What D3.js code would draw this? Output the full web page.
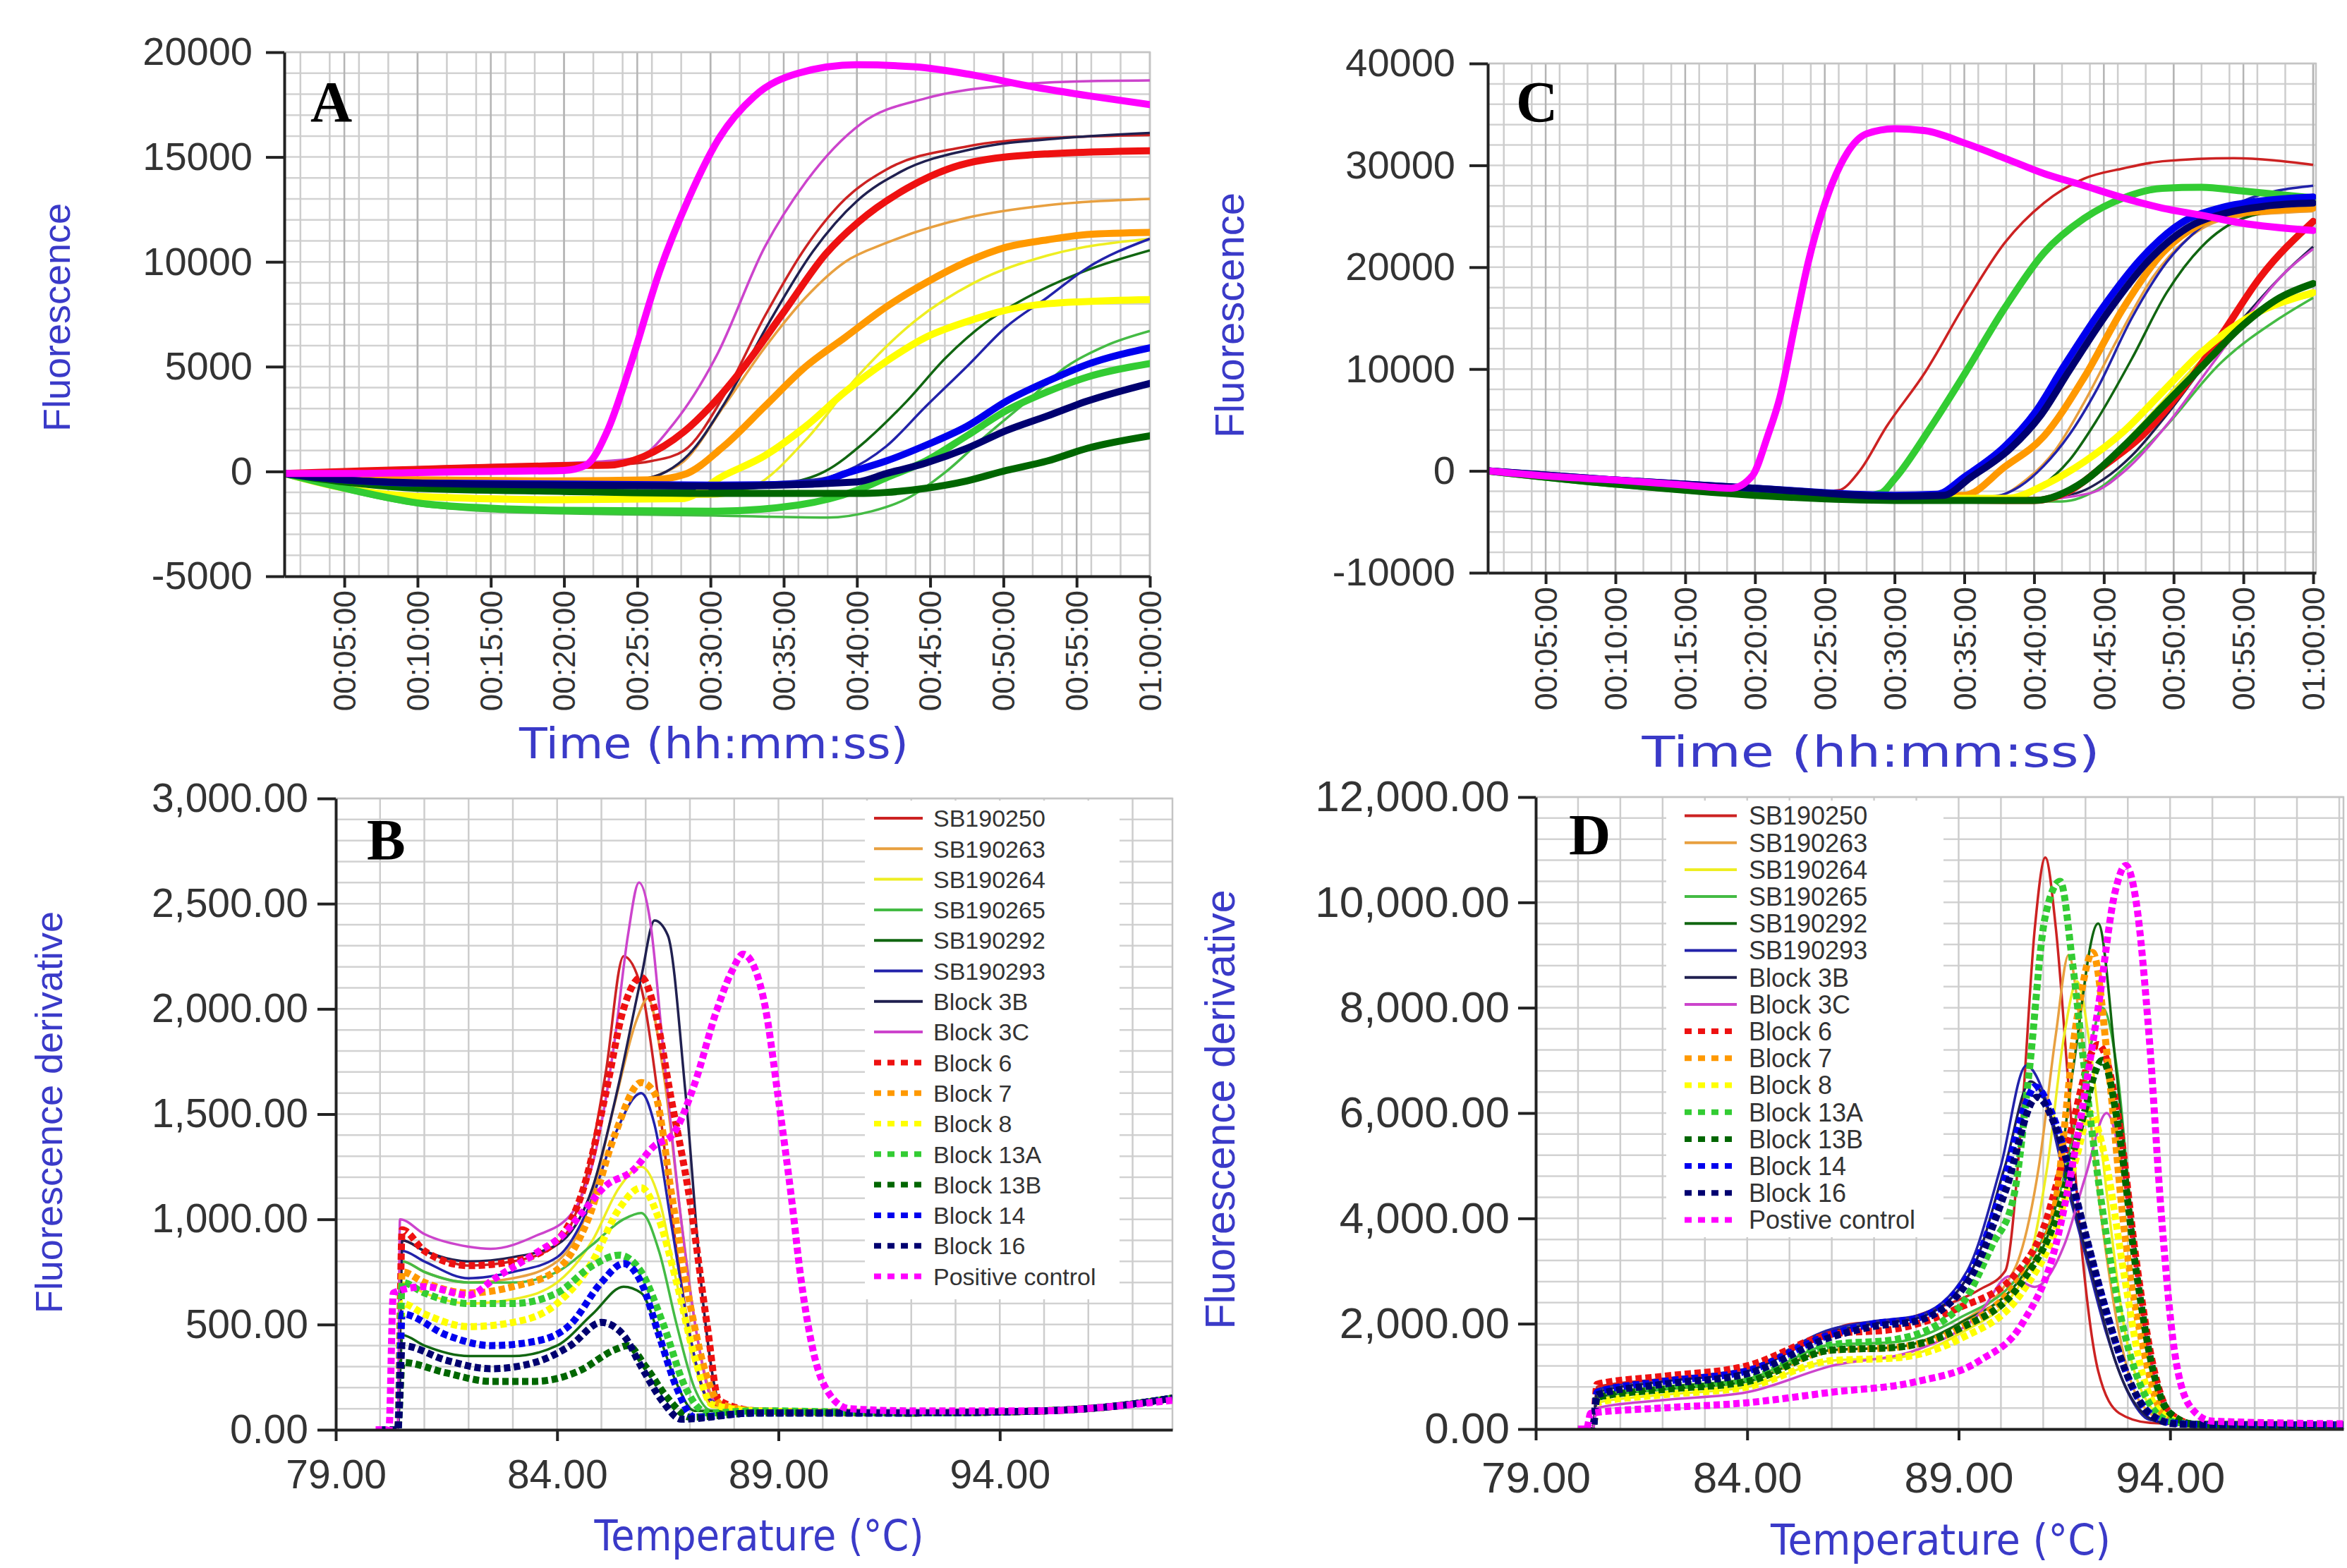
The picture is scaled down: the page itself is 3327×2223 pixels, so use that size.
<!DOCTYPE html>
<html>
<head>
<meta charset="utf-8">
<script src="https://cdn.jsdelivr.net/npm/d3@7"></script>
<style>
  body { margin: 0; background: #fff; }
  svg text { font-family: "Liberation Sans", Arial, sans-serif; }
</style>
</head>
<body>
<div id="vis-container"></div>
<script>
// series, in legend order
const seriesNames = ['SB190250', 'SB190263', 'SB190264', 'SB190265', 'SB190292', 'SB190293',
  'Block 3B', 'Block 3C', 'Block 6', 'Block 7', 'Block 8', 'Block 13A', 'Block 13B',
  'Block 14', 'Block 16', 'Positive control'];
// the D legend spells it "Postive"
const seriesNamesD = seriesNames.slice(0, 15).concat(['Postive control']);
const seriesColors = ['#cc2222', '#e8a040', '#eeee22', '#44bb44', '#116611', '#2222aa',
  '#202050', '#cc44cc', '#ee1111', '#ff9900', '#ffff00', '#33cc33', '#006600',
  '#0000ee', '#000070', '#ff00ff'];
const dotted = [false, false, false, false, false, false, false, false,
  true, true, true, true, true, true, true, true];

// tick values
const timeTicks = [5, 10, 15, 20, 25, 30, 35, 40, 45, 50, 55, 60];
const tempTicks = [79, 84, 89, 94];
const ticksA = [-5000, 0, 5000, 10000, 15000, 20000];
const ticksC = [-10000, 0, 10000, 20000, 30000, 40000];
const ticksB = [0, 500, 1000, 1500, 2000, 2500, 3000];
const ticksD = [0, 2000, 4000, 6000, 8000, 10000, 12000];

// A: amplification, [minutes, fluorescence]
const ampA = [
  [[0.9,-100],[5,0],[10,150],[15,250],[20,300],[24,350],[26,500],[28.2,1000],[30.9,3600],[33.7,7400],[36.5,10700],[39.2,13000],[42,14400],[47.5,15500],[53,15900],[60,16050]],
  [[0.9,-100],[5,-300],[10,-400],[20,-450],[25,-400],[27,0],[28.2,500],[30.9,3100],[33.7,5900],[36.5,8300],[39.2,10000],[42,10900],[47.5,12100],[53,12700],[60,13000]],
  [[0.9,-100],[5,-700],[10,-1100],[20,-1250],[30,-1200],[33,-700],[36.5,1500],[40,4500],[44,7200],[48,9000],[53,10300],[60,11100]],
  [[0.9,-100],[5,-900],[10,-1600],[15,-1900],[20,-2000],[30,-2100],[38,-2200],[41,-1900],[43.4,-1300],[46.1,0],[48.8,1700],[51.6,3350],[54.3,5000],[57,6000],[60,6700]],
  [[0.9,-100],[5,-500],[10,-800],[20,-900],[30,-900],[35,-600],[37.8,0],[40.6,1450],[43.4,3350],[46.1,5450],[48.8,7100],[51.6,8300],[55.7,9600],[60,10550]],
  [[0.9,-100],[5,-400],[10,-550],[20,-600],[30,-600],[37,-400],[39.2,0],[42,1200],[44.7,3100],[47.5,5000],[50.2,6900],[53,8300],[55.7,9700],[60,11100]],
  [[0.9,-100],[5,-350],[10,-500],[20,-550],[25,-400],[27,0],[28.5,800],[31,3300],[34,7100],[37,10500],[40,12900],[43,14300],[48,15400],[54,15900],[60,16150]],
  [[0.9,-100],[5,50],[10,200],[15,300],[20,400],[23,500],[25,650],[27.5,2300],[30.4,5500],[33.7,10700],[36.5,13800],[40.3,16600],[44.7,17800],[50,18400],[55,18600],[60,18650]],
  [[0.9,-100],[5,0],[10,100],[15,200],[20,280],[23,300],[25.4,700],[28.2,1900],[30,3100],[32.3,5000],[35,7600],[37.9,10400],[40.1,11900],[43.4,13500],[47.5,14700],[53,15150],[60,15300]],
  [[0.9,-100],[5,-300],[10,-400],[20,-450],[26,-400],[28.2,-150],[30.9,1200],[33.7,3100],[36.5,5000],[39.2,6400],[42,7850],[44.7,9000],[47.5,10000],[50.2,10700],[53,11050],[55.7,11300],[60,11400]],
  [[0.9,-100],[5,-800],[10,-1200],[20,-1350],[28,-1300],[30.9,-200],[33.7,750],[36.5,2150],[39.2,3800],[42,5250],[44.7,6400],[47.5,7150],[50.2,7700],[53,8000],[60,8200]],
  [[0.9,-100],[5,-800],[10,-1500],[15,-1750],[20,-1850],[30,-1900],[36,-1600],[40,-900],[42,-300],[44.7,500],[47.5,1700],[50.2,2900],[53,3800],[55.7,4500],[60,5150]],
  [[0.9,-100],[5,-500],[10,-800],[20,-950],[30,-1050],[40,-1050],[42,-1000],[44.7,-800],[47.5,-450],[50.2,50],[53,500],[55.7,1100],[60,1700]],
  [[0.9,-100],[5,-400],[10,-550],[20,-600],[30,-650],[37,-600],[39.2,-100],[42,500],[44.7,1250],[47.5,2150],[50.2,3350],[53,4300],[55.7,5100],[60,5900]],
  [[0.9,-100],[5,-400],[10,-550],[20,-650],[30,-700],[40,-500],[42,-100],[44.7,400],[47.5,1100],[50.2,1950],[53,2650],[55.7,3350],[60,4200]],
  [[0.9,-100],[5,-100],[10,-50],[15,0],[20,50],[21.5,300],[23,2000],[24.5,5000],[26.5,9500],[28.5,13000],[30.5,15800],[33,17900],[36,19000],[40,19400],[44,19300],[48,18900],[52,18350],[56,17900],[60,17500]]
];

// C: amplification, [minutes, fluorescence]
const ampC = [
  [[0.85,0],[10,-1000],[20,-1900],[24,-2100],[26,-1900],[27.5,0],[29.4,4300],[32.2,9700],[35.1,16500],[37.9,22400],[40.7,26300],[43.6,28700],[46.4,29700],[49.2,30400],[54.3,30700],[60,30050]],
  [[0.85,0],[10,-1000],[20,-1900],[30,-2600],[37,-2600],[39.5,-800],[41.5,2000],[43.5,6500],[46,13000],[48.5,19000],[51,22800],[54,24800],[60,25500]],
  [[0.85,0],[10,-1200],[20,-2200],[30,-2800],[40,-2900],[42.5,-1800],[45,800],[48,5000],[51,9500],[54,13500],[57,16000],[60,17200]],
  [[0.85,0],[10,-1300],[20,-2500],[30,-3000],[42,-3000],[44.9,-1500],[47,1000],[49.2,4000],[53.3,10500],[57.6,15000],[60,17000]],
  [[0.85,0],[10,-1200],[20,-2200],[30,-2800],[38,-2900],[40.5,-1500],[42.5,1000],[44.5,5000],[47,11000],[49.5,17500],[52,22000],[55,24800],[60,26000]],
  [[0.85,0],[10,-900],[20,-1700],[30,-2400],[37,-2500],[39,-1500],[40.7,500],[42.5,3500],[44.5,8000],[47,15000],[49.5,20500],[52,24000],[55,26500],[60,28000]],
  [[0.85,0],[10,-800],[20,-1600],[30,-2400],[40,-2700],[43,-2200],[45,-800],[47,1500],[49.5,5500],[52,10000],[55,15000],[58,19500],[60,22000]],
  [[0.85,0],[10,-1000],[20,-1900],[30,-2600],[40,-2800],[44,-2200],[46.5,0],[49.5,4500],[52.5,10000],[55.5,15500],[58,19500],[60,21800]],
  [[0.85,0],[10,-1100],[20,-2000],[30,-2700],[40,-2900],[42.5,-2000],[44.9,400],[47.7,3400],[50.5,7750],[53.3,13100],[56.2,19000],[60,24500]],
  [[0.85,0],[10,-1000],[20,-1900],[30,-2500],[35,-2400],[37.9,400],[40.7,3400],[43.6,9200],[46.4,16000],[49.2,21400],[52,24300],[54.8,25300],[60,25800]],
  [[0.85,0],[10,-1200],[20,-2200],[30,-2700],[38,-2700],[41,-1200],[43.6,900],[46.4,3850],[49.2,7750],[52,11650],[54.8,14600],[60,17500]],
  [[0.85,0],[10,-1300],[20,-2300],[27,-2600],[29,-2200],[30,-800],[32.6,4300],[35.1,9700],[37.9,16000],[40.7,21400],[43.6,24800],[46.4,26800],[49.2,27750],[52,27850],[54.8,27500],[60,26800]],
  [[0.85,0],[10,-1300],[20,-2400],[30,-2900],[40,-2900],[43.6,-1000],[46.4,2400],[49.2,6300],[52,10200],[54.8,14100],[57.6,17000],[60,18400]],
  [[0.85,0],[10,-900],[20,-1700],[30,-2400],[33,-2300],[35.1,-500],[37.9,2400],[40.1,5800],[42.1,10200],[44.9,16000],[47.7,20900],[50.5,24300],[53.3,25800],[56.2,26500],[60,26900]],
  [[0.85,0],[10,-900],[20,-1700],[30,-2500],[33.5,-2400],[35.5,-600],[38.3,2200],[40.5,5500],[42.5,9800],[45.3,15600],[48.1,20500],[50.9,23800],[53.7,25300],[56.6,26000],[60,26300]],
  [[0.85,0],[5,-500],[10,-900],[15,-1400],[18.3,-1700],[19.8,-500],[20.9,3400],[21.8,7300],[22.9,14600],[23.8,20400],[24.9,25800],[26.6,31200],[28,33100],[30,33600],[32.2,33400],[35.1,32150],[37.9,30700],[40.7,29200],[43.6,28000],[46.4,26800],[49.2,25800],[52,25100],[54.8,24350],[60,23600]]
];

// B: melt curves, [temperature, fluorescence derivative]
const meltB = [
  [[80,0],[80.4,0],[80.5,900],[81,850],[82,780],[83,800],[84,880],[84.6,1150],[85.1,1700],[85.5,2250],[85.9,2100],[86.3,1550],[86.7,850],[87.1,350],[87.5,120],[88.5,90],[92,80],[95,90],[96.5,110],[97.9,150]],
  [[80,0],[80.4,0],[80.5,800],[81,750],[82,700],[83,720],[84,800],[84.7,1050],[85.3,1550],[85.8,1950],[86.05,2050],[86.4,1700],[86.8,1000],[87.2,400],[87.6,130],[88.5,90],[92,80],[95,90],[96.5,110],[97.9,150]],
  [[80,0],[80.4,0],[80.5,700],[81,650],[82,600],[83,620],[84,700],[84.8,900],[85.4,1150],[85.9,1250],[86.3,1100],[86.7,700],[87.1,320],[87.5,110],[88.5,90],[92,80],[95,90],[96.5,110],[97.9,150]],
  [[80,0],[80.4,0],[80.5,800],[81,750],[82,700],[83,700],[84,750],[84.8,880],[85.5,1000],[85.9,1030],[86.3,850],[86.7,500],[87.1,200],[87.5,90],[88.5,90],[92,80],[95,90],[96.5,110],[97.9,150]],
  [[80,0],[80.4,0],[80.5,450],[81,400],[82,350],[83,350],[84,400],[84.8,550],[85.5,680],[85.9,650],[86.3,450],[86.7,220],[87.1,90],[88.5,90],[92,80],[95,90],[96.5,110],[97.9,150]],
  [[80,0],[80.4,0],[80.5,850],[81,800],[82,720],[83,750],[84,820],[84.7,1050],[85.3,1400],[85.9,1600],[86.2,1450],[86.6,950],[87,450],[87.4,150],[88.5,90],[92,80],[95,90],[96.5,110],[97.9,150]],
  [[80,0],[80.4,0],[80.5,900],[81,850],[82,800],[83,820],[84,880],[84.8,1150],[85.4,1650],[85.9,2150],[86.2,2420],[86.5,2350],[86.9,1600],[87.3,600],[87.7,120],[88.5,90],[92,80],[95,90],[96.5,110],[97.9,150]],
  [[80,0],[80.4,0],[80.45,1000],[81,930],[82,870],[82.5,860],[83.5,920],[84.3,1020],[84.9,1350],[85.3,1850],[85.6,2350],[85.85,2600],[86.1,2420],[86.4,1800],[86.8,1000],[87.2,400],[87.5,150],[88.5,90],[92,80],[95,90],[96.5,110],[97.9,150]],
  [[80,0],[80.4,0],[80.5,950],[81,850],[82,780],[83,800],[84,900],[84.6,1150],[85.1,1600],[85.5,2000],[85.9,2150],[86.2,2000],[86.57,1580],[87,1090],[87.4,480],[87.65,140],[88.5,90],[92,80],[95,90],[96.5,110],[97.9,150]],
  [[80,0],[80.4,0],[80.5,750],[81,700],[82,650],[83,680],[84,760],[84.7,1000],[85.3,1400],[85.9,1650],[86.2,1600],[86.6,1100],[87,600],[87.4,240],[87.7,120],[88.5,90],[92,80],[95,90],[96.5,110],[97.9,150]],
  [[80,0],[80.4,0],[80.5,600],[81,550],[82,490],[83,510],[84,600],[84.8,800],[85.4,1050],[85.9,1150],[86.3,1000],[86.7,700],[87.1,350],[87.5,120],[88.5,90],[92,80],[95,90],[96.5,110],[97.9,150]],
  [[80,0],[80.4,0],[80.5,700],[81,650],[82,600],[83,600],[84,650],[84.8,780],[85.4,830],[85.9,750],[86.4,500],[86.9,200],[87.4,80],[88.5,90],[92,80],[95,90],[96.5,110],[97.9,150]],
  [[80,0],[80.4,0],[80.5,320],[81.5,270],[82.5,230],[83.5,230],[84.5,280],[85.3,380],[85.6,400],[86,300],[86.5,150],[87,60],[88.5,80],[92,80],[95,90],[96.5,110],[97.9,150]],
  [[80,0],[80.4,0],[80.5,550],[81.5,450],[82.5,400],[83.5,420],[84.3,500],[85,700],[85.5,790],[85.9,700],[86.3,450],[86.7,200],[87.1,60],[88.5,80],[92,80],[95,90],[96.5,110],[97.9,150]],
  [[80,0],[80.4,0],[80.5,400],[81.5,330],[82.5,290],[83.5,320],[84.3,400],[85,510],[85.5,450],[85.9,300],[86.4,130],[86.8,50],[88.5,80],[92,80],[95,90],[96.5,110],[97.9,150]],
  [[79.9,0],[80.2,0],[80.3,650],[81,680],[82,640],[82.6,720],[83.6,850],[84.1,920],[84.6,1040],[85.1,1160],[85.7,1230],[86.2,1350],[86.6,1400],[87.1,1640],[87.6,1990],[87.95,2180],[88.2,2260],[88.45,2200],[88.7,2010],[89,1570],[89.3,1090],[89.5,730],[89.8,360],[90.15,170],[90.6,100],[92,90],[95,90],[96.5,110],[97.9,140]]
];

// D: melt curves, [temperature, fluorescence derivative]
const meltD = [
  [[80,0],[80.35,0],[80.45,800],[82,950],[84,1150],[85.5,1700],[86.5,2000],[87.5,2050],[88.5,2300],[89.5,2650],[90.1,3000],[90.5,6000],[90.8,9500],[91.05,10850],[91.3,9500],[91.6,6500],[91.9,3500],[92.3,1100],[92.8,300],[93.5,120],[95,80],[98.1,80]],
  [[80,0],[80.35,0],[80.45,650],[82,800],[84,950],[86,1500],[87.5,1550],[89,2000],[90.3,3000],[90.9,5000],[91.3,7500],[91.6,9000],[91.9,7500],[92.3,4500],[92.8,1800],[93.3,500],[94,120],[95,80],[98.1,80]],
  [[80,0],[80.35,0],[80.45,500],[82,650],[84,800],[86,1300],[87.5,1350],[89,1800],[90.5,2800],[91.1,5000],[91.5,7500],[91.8,8500],[92.1,7300],[92.5,4500],[92.9,2000],[93.4,600],[94,150],[95,80],[98.1,80]],
  [[80,0],[80.35,0],[80.45,650],[82,800],[84,950],[86,1600],[87.5,1650],[89,2100],[90.5,3000],[91.4,4500],[92,6800],[92.4,8000],[92.75,6800],[93.1,3900],[93.5,1400],[93.9,350],[94.5,100],[95,80],[98.1,80]],
  [[80,0],[80.35,0],[80.45,600],[82,750],[84,900],[86,1500],[87.5,1550],[89,2000],[90.5,2900],[91.2,3900],[91.7,6800],[92.3,9600],[92.73,6800],[93.1,3900],[93.5,1400],[93.86,360],[94.5,100],[95,80],[98.1,80]],
  [[80,0],[80.35,0],[80.45,750],[82,950],[84,1150],[86,1900],[87,2050],[88,2150],[89.2,3000],[90,5000],[90.6,6900],[91,6400],[91.5,4800],[92,3300],[92.5,1800],[93,700],[93.5,180],[94.5,80],[98.1,80]],
  [[80,0],[80.35,0],[80.45,700],[82,900],[84,1100],[86,1850],[87,2000],[88,2100],[89.3,3000],[90.1,5000],[90.7,6600],[91.2,5900],[91.7,4300],[92.2,2800],[92.7,1300],[93.2,450],[93.8,120],[94.5,80],[98.1,80]],
  [[80,0],[80.35,0],[80.45,400],[82,550],[84,700],[86,1200],[88,1500],[89.5,2200],[90.2,2900],[90.8,2700],[91.5,3500],[92,4800],[92.5,6000],[92.9,4800],[93.3,2500],[93.7,800],[94.2,200],[95,80],[98.1,80]],
  [[80,0],[80.35,0],[80.45,850],[82,1000],[84,1200],[86,1800],[87.5,1900],[89,2300],[90.3,2900],[91,3800],[91.6,5500],[92.3,7300],[92.8,5800],[93.2,3200],[93.6,1200],[94,300],[94.6,90],[98.1,80]],
  [[80,0],[80.35,0],[80.45,650],[82,800],[84,950],[86,1500],[87.5,1550],[89,1900],[90.3,2700],[91.2,3900],[91.8,7800],[92.17,9050],[92.55,6800],[92.9,3900],[93.4,1400],[93.86,260],[94.5,90],[98.1,80]],
  [[80,0],[80.35,0],[80.45,500],[82,650],[84,800],[86,1300],[87.5,1350],[89,1700],[90.5,2600],[91.3,3800],[91.8,5200],[92.1,6000],[92.5,5000],[92.9,3000],[93.3,1200],[93.8,300],[94.5,90],[98.1,80]],
  [[80,0],[80.35,0],[80.45,650],[82,800],[84,950],[86,1600],[87.5,1700],[89,2300],[89.8,3500],[90.3,4400],[90.67,6800],[91.04,9700],[91.4,10400],[91.7,8800],[91.98,6800],[92.45,3900],[92.9,1900],[93.4,650],[94,150],[95,80],[98.1,80]],
  [[80,0],[80.35,0],[80.45,600],[82,750],[84,900],[86,1500],[87.5,1550],[89,1900],[90.5,2800],[91.3,4000],[91.9,5800],[92.4,7000],[92.8,5600],[93.2,3000],[93.6,1100],[94,300],[94.6,90],[98.1,80]],
  [[80,0],[80.35,0],[80.45,700],[82,900],[84,1100],[86,1800],[87,2000],[88,2100],[89.3,3000],[90,4500],[90.6,6200],[90.8,6500],[91.3,5800],[91.9,4000],[92.4,2500],[92.9,1200],[93.4,400],[94,120],[95,80],[98.1,80]],
  [[80,0],[80.35,0],[80.45,650],[82,850],[84,1050],[86,1750],[87,1950],[88,2050],[89.3,2900],[90.1,4500],[90.85,6300],[91.4,5500],[92,3700],[92.5,2200],[93,1000],[93.5,300],[94.1,100],[95,80],[98.1,80]],
  [[80,0],[80.2,0],[80.3,300],[82,400],[84,500],[86,700],[88,900],[89.5,1300],[90.5,2000],[91.3,3500],[91.8,5500],[92.3,8000],[92.7,10200],[92.95,10700],[93.2,10000],[93.5,7500],[93.8,4000],[94.1,1500],[94.5,400],[95,150],[98.1,100]]
];

const pad2 = n => String(n).padStart(2, '0');
const fmtTime = m => pad2(Math.floor(m / 60)) + ':' + pad2(m % 60) + ':00';
// plain hyphen for negatives, like the instrument software
const fmtInt = d => String(d);

const svg = d3.select('#vis-container').append('svg')
  .attr('width', 3327)
  .attr('height', 2223)
  .style('background', '#fff');

const axisColor = '#222';
const labelColor = '#333';
const titleColor = '#3a3ac8';

// panel layout (pixel boxes of the four plot areas)
const panels = [
  { key: 'A', kind: 'time', data: ampA, left: 403, right: 1630, top: 74, bottom: 817,
    xDom: [0.9, 60], yDom: [-5000, 20000], yTicks: ticksA, yMinor: 1000,
    yFmt: fmtInt, tickFont: 56, xTickFont: 44, ySize: 26, yPad: 19,
    yTitle: { text: 'Fluorescence', x: 80, y: 450, size: 54 },
    xTitle: { text: 'Time (hh:mm:ss)', x: 1012, y: 1075, len: 552 },
    letter: { x: 440, y: 172 } },
  { key: 'C', kind: 'time', data: ampC, left: 2109, right: 3283, top: 90, bottom: 812,
    xDom: [0.85, 60.2], yDom: [-10000, 40000], yTicks: ticksC, yMinor: 2000,
    yFmt: fmtInt, tickFont: 56, xTickFont: 45, ySize: 26, yPad: 20,
    yTitle: { text: 'Fluorescence', x: 1743, y: 447, size: 58 },
    xTitle: { text: 'Time (hh:mm:ss)', x: 2652, y: 1087, len: 649 },
    letter: { x: 2149, y: 172 } },
  { key: 'B', kind: 'temp', data: meltB, left: 476, right: 1662, top: 1132, bottom: 2027,
    xDom: [79, 97.9], yDom: [0, 3000], yTicks: ticksB, yMinor: 100,
    yFmt: d3.format(',.2f'), tickFont: 57, ySize: 26, yPad: 13, xPad: 27,
    yTitle: { text: 'Fluorescence derivative', x: 69, y: 1577, size: 54 },
    xTitle: { text: 'Temperature (°C)', x: 1076, y: 2198, len: 467 },
    letter: { x: 520, y: 1218 },
    legend: { x: 1226, y: 1135, w: 361, h: 707, row0: 1160, step: 43.3,
      lx0: 1239, lx1: 1308, tx: 1323, font: 34, names: seriesNames } },
  { key: 'D', kind: 'temp', data: meltD, left: 2177, right: 3322, top: 1130, bottom: 2026,
    xDom: [79, 98.1], yDom: [0, 12000], yTicks: ticksD, yMinor: 400,
    yFmt: d3.format(',.2f'), tickFont: 62, ySize: 25, yPad: 12, xPad: 30,
    yTitle: { text: 'Fluorescence derivative', x: 1729, y: 1573, size: 59 },
    xTitle: { text: 'Temperature (°C)', x: 2751, y: 2204, len: 482 },
    letter: { x: 2224, y: 1211 },
    legend: { x: 2362, y: 1135, w: 393, h: 619, row0: 1156.5, step: 38.2,
      lx0: 2388, lx1: 2462, tx: 2479, font: 36, names: seriesNamesD } }
];

panels.forEach(function (p) {
  const x = d3.scaleLinear().domain(p.xDom).range([p.left, p.right]);
  const y = d3.scaleLinear().domain(p.yDom).range([p.bottom, p.top]);
  const g = svg.append('g').attr('class', 'panel-' + p.key);

  // grid
  const hGrid = d3.range(p.yDom[0], p.yDom[1] + 1e-6, p.yMinor);
  g.append('g').selectAll('line').data(hGrid).join('line')
    .attr('x1', p.left).attr('x2', p.right)
    .attr('y1', d => y(d)).attr('y2', d => y(d))
    .attr('stroke', '#d2d2d2').attr('stroke-width', 2.5);

  let vMinor, vMajor;
  if (p.kind === 'time') {
    vMinor = d3.range(2, 61, 2).filter(d => d > p.xDom[0] && d < p.xDom[1]);
    vMajor = timeTicks;
  } else {
    vMinor = d3.range(80, Math.floor(p.xDom[1]) + 1, 1);
    vMajor = [];
  }
  g.append('g').selectAll('line').data(vMinor).join('line')
    .attr('x1', d => x(d)).attr('x2', d => x(d))
    .attr('y1', p.top).attr('y2', p.bottom)
    .attr('stroke', '#cdcdcd').attr('stroke-width', 2.5);
  g.append('g').selectAll('line').data(vMajor).join('line')
    .attr('x1', d => x(d)).attr('x2', d => x(d))
    .attr('y1', p.top).attr('y2', p.bottom)
    .attr('stroke', '#b4b4b4').attr('stroke-width', 2.5);

  // frame top / right
  g.append('path')
    .attr('d', `M${p.left},${p.top}H${p.right}V${p.bottom}`)
    .attr('fill', 'none').attr('stroke', '#c4c4c4').attr('stroke-width', 2.5);

  // clip
  const clipId = 'clip-' + p.key;
  svg.append('clipPath').attr('id', clipId).append('rect')
    .attr('x', p.left).attr('y', p.top)
    .attr('width', p.right - p.left).attr('height', p.bottom - p.top);

  const line = d3.line()
    .x(d => x(d[0]))
    .y(d => y(d[1]))
    .curve(d3.curveMonotoneX);

  const lines = g.append('g').attr('clip-path', `url(#${clipId})`);
  p.data.forEach(function (pts, i) {
    const path = lines.append('path')
      .datum(pts)
      .attr('fill', 'none')
      .attr('stroke', seriesColors[i])
      .attr('stroke-linejoin', 'round')
      .attr('d', line);
    if (!dotted[i]) {
      path.attr('stroke-width', 3.5);
    } else if (p.kind === 'time') {
      path.attr('stroke-width', 10).attr('stroke-linecap', 'round');
    } else {
      path.attr('stroke-width', 10).attr('stroke-dasharray', '9 5');
    }
  });

  // y axis
  const yAxisG = g.append('g').attr('transform', `translate(${p.left},0)`)
    .call(d3.axisLeft(y).tickValues(p.yTicks).tickFormat(p.yFmt)
      .tickSize(p.ySize).tickSizeOuter(0).tickPadding(p.yPad));

  // x axis
  const xAxisG = g.append('g').attr('transform', `translate(0,${p.bottom})`);
  if (p.kind === 'time') {
    xAxisG.call(d3.axisBottom(x).tickValues(timeTicks).tickFormat(fmtTime)
      .tickSize(16).tickSizeOuter(0));
    xAxisG.selectAll('.tick text')
      .attr('transform', 'rotate(-90)')
      .attr('x', -20).attr('y', 0).attr('dy', '0.35em')
      .style('text-anchor', 'end')
      .style('font-size', p.xTickFont + 'px');
  } else {
    xAxisG.call(d3.axisBottom(x).tickValues(tempTicks).tickFormat(d3.format('.2f'))
      .tickSize(16).tickSizeOuter(0).tickPadding(p.xPad));
    xAxisG.selectAll('.tick text').style('font-size', p.tickFont + 'px');
  }

  [yAxisG, xAxisG].forEach(function (a) {
    a.select('.domain').attr('stroke', axisColor).attr('stroke-width', 4);
    a.selectAll('.tick line').attr('stroke', axisColor).attr('stroke-width', 4);
    a.selectAll('.tick text').attr('fill', labelColor)
      .style('font-family', '"Liberation Sans", Arial, sans-serif');
  });
  yAxisG.selectAll('.tick text').style('font-size', p.tickFont + 'px');

  // axis titles
  g.append('text')
    .attr('transform', `translate(${p.yTitle.x},${p.yTitle.y}) rotate(-90)`)
    .attr('text-anchor', 'middle')
    .attr('dy', '0.35em')
    .attr('fill', titleColor)
    .style('font-size', p.yTitle.size + 'px')
    .text(p.yTitle.text);

  g.append('text')
    .attr('x', p.xTitle.x - p.xTitle.len / 2)
    .attr('y', p.xTitle.y)
    .attr('textLength', p.xTitle.len)
    .attr('lengthAdjust', 'spacingAndGlyphs')
    .attr('fill', titleColor)
    .style('font-family', '"DejaVu Sans", Verdana, sans-serif')
    .style('font-size', '60px')
    .text(p.xTitle.text);

  // panel letter
  g.append('text')
    .attr('x', p.letter.x).attr('y', p.letter.y)
    .attr('fill', '#000')
    .style('font-family', '"Liberation Serif", "Times New Roman", serif')
    .style('font-weight', 'bold')
    .style('font-size', '82px')
    .text(p.key);

  // legend
  if (p.legend) {
    const L = p.legend;
    const lg = g.append('g');
    lg.append('rect')
      .attr('x', L.x).attr('y', L.y).attr('width', L.w).attr('height', L.h)
      .attr('fill', '#fff');
    L.names.forEach(function (name, i) {
      const yy = L.row0 + i * L.step;
      const ln = lg.append('line')
        .attr('x1', L.lx0).attr('x2', L.lx1).attr('y1', yy).attr('y2', yy)
        .attr('stroke', seriesColors[i]);
      if (dotted[i]) {
        ln.attr('stroke-width', 8).attr('stroke-dasharray', '10 9');
      } else {
        ln.attr('stroke-width', 4);
      }
      lg.append('text')
        .attr('x', L.tx).attr('y', yy).attr('dy', '0.36em')
        .attr('fill', labelColor)
        .style('font-size', L.font + 'px')
        .text(name);
    });
  }
});
</script>
</body>
</html>
